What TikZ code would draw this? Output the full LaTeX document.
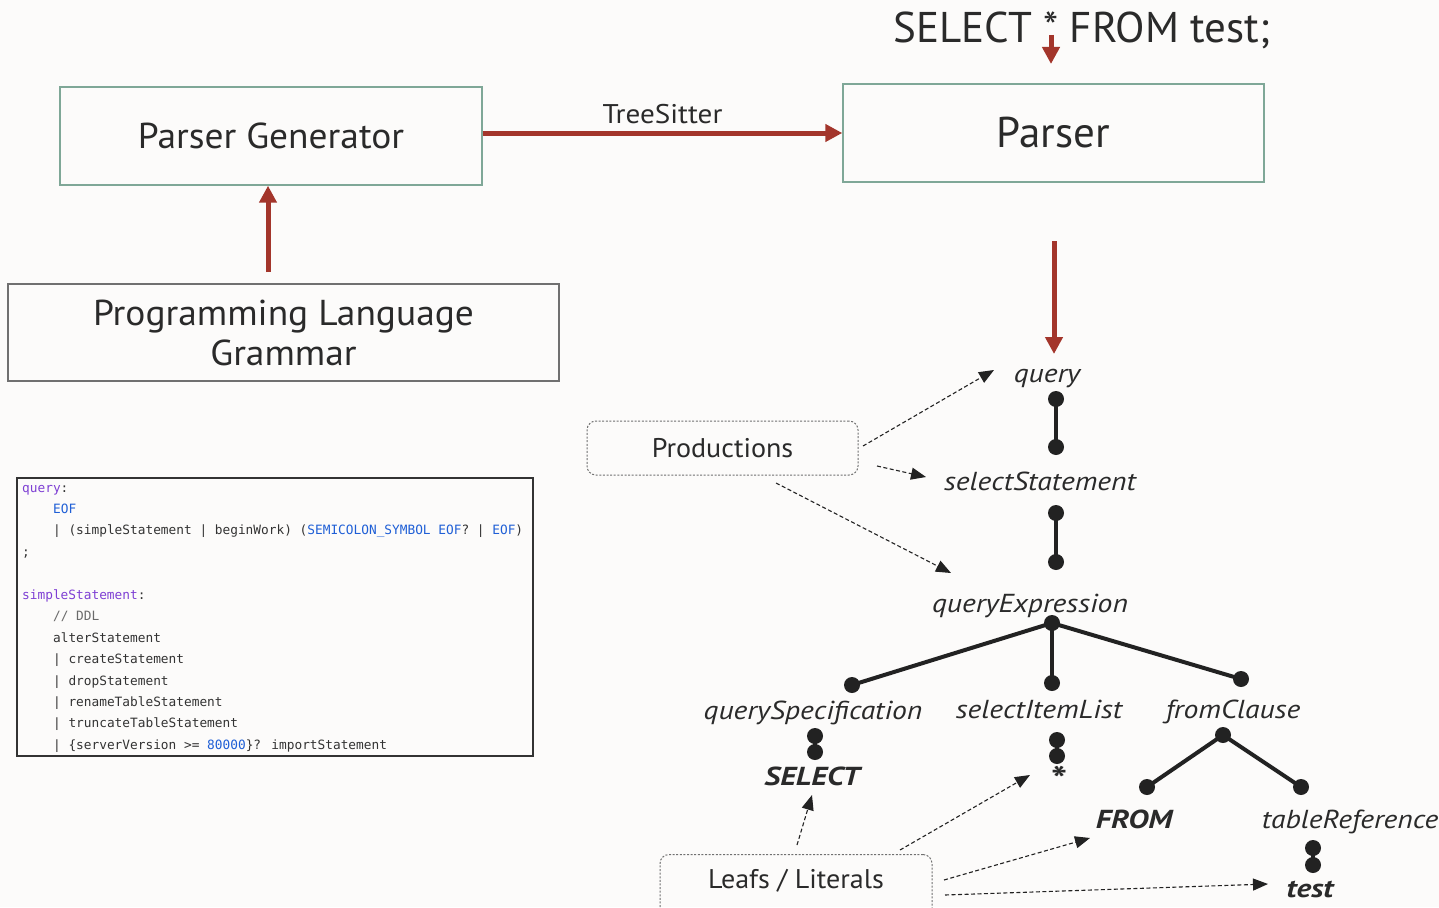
\documentclass[tikz,border=0pt]{standalone}
\usepackage{fontspec}
\setmainfont{PT Sans}
\newfontfamily\midfont{PT Sans}[FakeStretch=1.04]
\newfontfamily\tsfont{PT Sans}[FakeStretch=1.08]
\newfontfamily\treeitfont{PT Sans}[FakeStretch=1.14]
\newfontfamily\treebffont{PT Sans}[FakeStretch=1.2]
\newfontfamily\codefont{DejaVu Sans Mono}
\usetikzlibrary{arrows.meta}
\definecolor{bg}{HTML}{FCFBFA}
\definecolor{arrred}{HTML}{A3352B}
\definecolor{boxgreen}{HTML}{7FA797}
\definecolor{boxgray}{HTML}{707070}
\definecolor{txt}{HTML}{2A2A2A}
\definecolor{cdpurple}{HTML}{7E3FD4}
\definecolor{cdblue}{HTML}{1F5FD6}
\definecolor{cdgray}{HTML}{6A6A6A}
\definecolor{cdtext}{HTML}{333333}
\definecolor{treeblack}{HTML}{222222}
\newcommand\cdP[1]{\textcolor{cdpurple}{#1}}
\newcommand\cdB[1]{\textcolor{cdblue}{#1}}
\newcommand\cdG[1]{\textcolor{cdgray}{#1}}
\tikzset{
  bigbox/.style={draw=boxgreen, line width=1.4pt, inner sep=0pt, text=txt},
  redarr/.style={draw=arrred, line width=5pt, -{Triangle[length=17pt,width=17pt,fill=arrred]}},
  dasharr/.style={draw=treeblack, line width=1.1pt, dash pattern=on 4pt off 2.5pt, -{Triangle[length=15pt,width=12pt,fill=treeblack]}},
  dotbox/.style={draw=boxgray, line width=1pt, dash pattern=on 2pt off 1.6pt, rounded corners=9pt, inner sep=0pt},
  tdot/.style={circle, fill=treeblack, inner sep=0pt, minimum size=16pt},
  tedge/.style={line width=4pt, draw=treeblack},
  tlabel/.style={font=\treeitfont\fontsize{26}{30}\selectfont\itshape, text=txt, inner sep=0pt, anchor=base},
  tleaf/.style={font=\treebffont\fontsize{26}{30}\selectfont\bfseries\itshape, text=txt, inner sep=0pt, anchor=base},
  codeline/.style={font=\codefont\fontsize{12.8}{15}\selectfont, text=cdtext, inner sep=0pt, anchor=base west},
}
\begin{document}
\begin{tikzpicture}[x=1pt,y=-1pt]
\useasboundingbox (0,0) rectangle (1439,907);
\clip (0,0) rectangle (1439,907);
\fill[bg] (0,0) rectangle (1439,907);

% title
\node[font=\fontsize{43}{50}\selectfont, text=txt, inner sep=0pt, anchor=base] (title) at (1082,42) {SELECT * FROM test;};
\coordinate (ta) at (1051,35);
\coordinate (tb) at (1051,64);
\draw[redarr] (ta) -- (tb);

% boxes
\node[bigbox, minimum width=422pt, minimum height=98pt, font=\midfont\fontsize{36}{40}\selectfont] (pg) at (271,136) {Parser Generator};
\node[bigbox, minimum width=421pt, minimum height=98pt, font=\fontsize{43}{50}\selectfont] (parser) at (1053.5,133) {Parser};
\node[bigbox, draw=boxgray, minimum width=551pt, minimum height=97pt, align=center, font=\midfont\fontsize{36}{40}\selectfont] (plg) at (283.5,332.5) {Programming Language\\Grammar};

% red arrows
\draw[redarr] (pg.east |- parser.west) -- node[above=7pt, font=\tsfont\fontsize{27}{30}\selectfont, text=txt, inner sep=0pt] (ts) {TreeSitter} (parser.west);
\coordinate (ua) at (268,272);
\draw[redarr] (ua) -- (ua |- pg.south);
\coordinate (da) at (1054,241);
\coordinate (db) at (1054,354);
\draw[redarr] (da) -- (db);

% code box
\node[codeline] (c0) at (22,492) {\cdP{query}:};
\node[codeline] (c1) at (52.9,513.4) {\cdB{EOF}};
\node[codeline] (c2) at (52.9,534.9) {| (simpleStatement | beginWork) (\cdB{SEMICOLON\_SYMBOL EOF}? | \cdB{EOF})};
\node[codeline] (c3) at (22,556.3) {;};
\node[codeline] (c5) at (22,599.2) {\cdP{simpleStatement}:};
\node[codeline] (c6) at (52.9,620.7) {\cdG{// DDL}};
\node[codeline] (c7) at (52.9,642.1) {alterStatement};
\node[codeline] (c8) at (52.9,663.6) {| createStatement};
\node[codeline] (c9) at (52.9,685.0) {| dropStatement};
\node[codeline] (c10) at (52.9,706.4) {| renameTableStatement};
\node[codeline] (c11) at (52.9,727.9) {| truncateTableStatement};
\node[codeline] (c12) at (52.9,749.3) {| \{serverVersion >= \cdB{80000}\}? importStatement};
\draw[draw=cdtext, line width=2pt] (16.8,478) rectangle (532.6,755.7);

% productions
\node[dotbox, minimum width=271pt, minimum height=54pt, font=\midfont\fontsize{27}{30}\selectfont, text=txt] (prod) at (722.5,448) {Productions};
\node[dotbox, minimum width=272pt, minimum height=70pt, anchor=north] (leafbox) at (796,854) {};
\node[font=\midfont\fontsize{27}{30}\selectfont, text=txt, inner sep=0pt, anchor=base] (leaf) at (796,888) {Leafs / Literals};

% tree labels
\node[tlabel] (lq) at (1047,382) {query};
\node[tlabel] (lss) at (1040,490) {selectStatement};
\node[tlabel] (lqe) at (1030,612) {queryExpression};
\node[tlabel] (lqs) at (813,719) {querySpecification};
\node[tlabel] (lsil) at (1039,718) {selectItemList};
\node[tlabel] (lfc) at (1233,718) {fromClause};
\node[tleaf] (lsel) at (812,785) {SELECT};
\node[tleaf, font=\treebffont\fontsize{36}{40}\selectfont\bfseries\itshape] (lstar) at (1057,792) {*};
\node[tleaf] (lfrom) at (1134,828) {FROM};
\node[tlabel] (ltr) at (1350,828) {tableReference};
\node[tleaf] (ltest) at (1310,897) {test};

% tree dots
\node[tdot] (q1) at (1056,399) {};
\node[tdot] (q2) at (1056,447) {};
\node[tdot] (s1) at (1056,513) {};
\node[tdot] (s2) at (1056,562) {};
\node[tdot] (e0) at (1052,623) {};
\node[tdot] (e1) at (852,685) {};
\node[tdot] (e2) at (1052,683) {};
\node[tdot] (e3) at (1241,679) {};
\node[tdot] (sp1) at (815,736) {};
\node[tdot] (sp2) at (815,752) {};
\node[tdot] (st1) at (1057,740) {};
\node[tdot] (st2) at (1057,756) {};
\node[tdot] (f0) at (1223,735) {};
\node[tdot] (f1) at (1147,787) {};
\node[tdot] (f2) at (1301,787) {};
\node[tdot] (t1) at (1313,848) {};
\node[tdot] (t2) at (1313,865) {};

\draw[tedge] (q1.center) -- (q2.center);
\draw[tedge] (s1.center) -- (s2.center);
\draw[tedge] (e0.center) -- (e1.center);
\draw[tedge] (e0.center) -- (e2.center);
\draw[tedge] (e0.center) -- (e3.center);
\draw[tedge] (sp1.center) -- (sp2.center);
\draw[tedge] (st1.center) -- (st2.center);
\draw[tedge] (f0.center) -- (f1.center);
\draw[tedge] (f0.center) -- (f2.center);
\draw[tedge] (t1.center) -- (t2.center);

% dashed arrows
\coordinate (pa1) at (863,446);  \coordinate (pb1) at (994,370);
\coordinate (pa2) at (877,466);  \coordinate (pb2) at (926,477);
\coordinate (pa3) at (776,483);  \coordinate (pb3) at (951,573);
\draw[dasharr] (pa1) -- (pb1);
\draw[dasharr] (pa2) -- (pb2);
\draw[dasharr] (pa3) -- (pb3);
\coordinate (la1) at (797,845);  \coordinate (lb1) at (812,795);
\coordinate (la2) at (900,850);  \coordinate (lb2) at (1030,775);
\coordinate (la3) at (944,880);  \coordinate (lb3) at (1090,838);
\coordinate (la4) at (945,895);  \coordinate (lb4) at (1268,884);
\draw[dasharr] (la1) -- (lb1);
\draw[dasharr] (la2) -- (lb2);
\draw[dasharr] (la3) -- (lb3);
\draw[dasharr] (la4) -- (lb4);
\end{tikzpicture}
\end{document}
